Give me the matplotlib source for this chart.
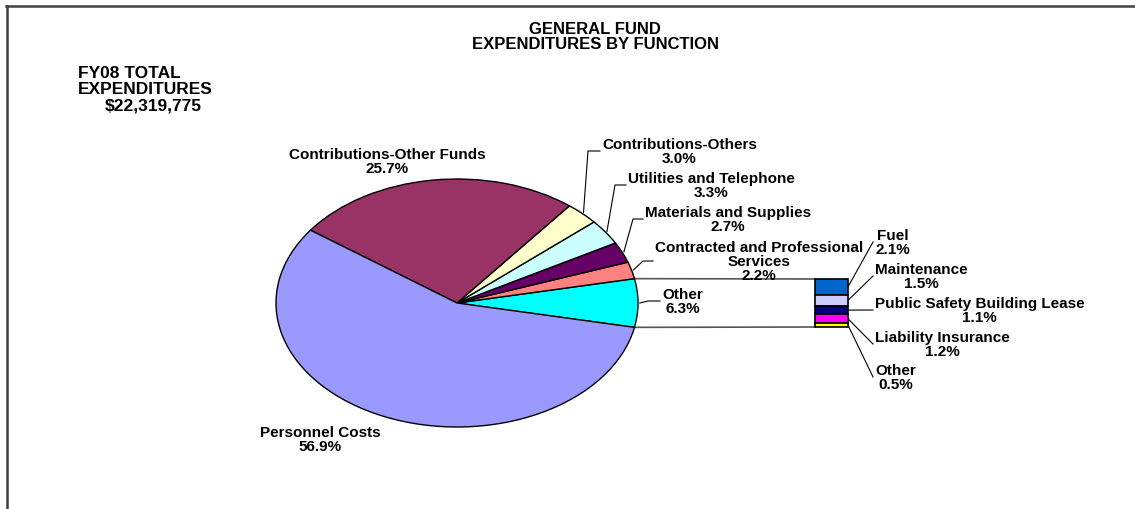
import numpy as np
import matplotlib.pyplot as plt

plt.rcParams['font.family'] = ['Liberation Sans', 'DejaVu Sans']
plt.rcParams['font.weight'] = 'bold'

# main pie, counter-clockwise starting with the "Other" slice on the right
pie_labels = ['Other', 'Contracted and Professional\nServices', 'Materials and Supplies',
              'Utilities and Telephone', 'Contributions-Others',
              'Contributions-Other Funds', 'Personnel Costs']
pie_pct = [6.3, 2.2, 2.7, 3.3, 3.0, 25.7, 56.9]
pie_colors = ['#00FFFF', '#FF8080', '#660066', '#CCFFFF', '#FFFFCC', '#993366', '#9999FF']

# the "Other" slice split out in the bar, top to bottom
bar_labels = ['Fuel', 'Maintenance', 'Public Safety Building Lease',
              'Liability Insurance', 'Other']
bar_pct = [2.1, 1.5, 1.1, 1.2, 0.5]
bar_colors = ['#0066CC', '#CCCCFF', '#000080', '#FF00FF', '#FFFF00']

title = 'GENERAL FUND\nEXPENDITURES BY FUNCTION'
total_lines = ['FY08 TOTAL', 'EXPENDITURES', '$22,319,775']

# layout in pixels (origin top-left)
W, H = 1135, 510
cx, cy, rx, ry = 457, 304, 181, 124
bx0, bx1, by0, by1 = 815, 848, 280, 328
FS = 11

# label placement: (text left x, text centre y, elbow x) ; None = no leader
pie_label_pos = [(662, 302, 648), (655, 262, 643), (645, 220, 633), (628, 186, 615),
                 (602, 152, 588), None, None]
free_label_pos = {5: (387, 162), 6: (320, 440)}
bar_label_y = [243, 277, 311, 345, 378]
bar_label_x = 874


def rect(x0, y0, w, h):
    return [x0 / W, 1 - (y0 + h) / H, w / W, h / H]


fig = plt.figure(figsize=(W / 100, H / 100), dpi=100)

# pie (ellipse by stretching an axes)
pax = fig.add_axes(rect(cx - rx, cy - ry, 2 * rx, 2 * ry))
frac = np.array(pie_pct) / sum(pie_pct)
start = -frac[0] * 360 / 2
wedges, _ = pax.pie(frac, colors=pie_colors, startangle=start,
                    wedgeprops=dict(edgecolor='black', linewidth=1.0))
for w in wedges:
    w.set_clip_on(False)
pax.set_aspect('auto')
pax.set_xlim(-1, 1)
pax.set_ylim(-1, 1)
pax.axis('off')

# stacked bar
bax = fig.add_axes(rect(bx0, by0, bx1 - bx0, by1 - by0))
bottoms = np.concatenate([[0], np.cumsum(bar_pct)[:-1]])
bars = bax.bar([0] * len(bar_pct), bar_pct, bottom=bottoms, width=1,
               color=bar_colors, edgecolor='black', linewidth=1.2)
for b in bars:
    b.set_clip_on(False)
bax.set_xlim(-0.5, 0.5)
bax.set_ylim(sum(bar_pct), 0)
bax.axis('off')

# overlay for texts and lines
ov = fig.add_axes([0, 0, 1, 1], zorder=-1)
ov.set_xlim(0, W)
ov.set_ylim(H, 0)
ov.axis('off')

ov.plot([6, W], [7, 7], color='#404040', lw=1.8, clip_on=False)
ov.plot([7, 7], [7, H], color='#404040', lw=1.8, clip_on=False)

ov.text(595, 37, title, ha='center', va='center', fontsize=12, linespacing=1.02)
ov.text(78, 73, total_lines[0], ha='left', va='center', fontsize=12.5)
ov.text(78, 89, total_lines[1], ha='left', va='center', fontsize=12.5)
ov.text(105, 106, total_lines[2], ha='left', va='center', fontsize=12.5)


def edge_point(angle_deg, k=1.0):
    a = np.radians(angle_deg)
    return cx + k * rx * np.cos(a), cy - k * ry * np.sin(a)


angles = start + np.concatenate([[0], np.cumsum(frac)]) * 360
for i, lab in enumerate(pie_labels):
    txt = f'{lab}\n{pie_pct[i]:.1f}%'
    mid = (angles[i] + angles[i + 1]) / 2
    pos = pie_label_pos[i]
    if pos is None:
        fx, fy = free_label_pos[i]
        ov.text(fx, fy, txt, ha='center', va='center', fontsize=FS,
                linespacing=1.0, multialignment='center')
        continue
    tx, ty, ex = pos
    ax_, ay_ = edge_point(mid, 1.01)
    ov.plot([ax_, ex, tx - 2], [ay_, ty, ty], color='black', lw=0.8)
    ov.text(tx, ty, txt, ha='left', va='center', fontsize=FS,
            linespacing=1.0, multialignment='center')

# connector lines from the "Other" slice to the bar
p_top = edge_point(angles[1])
p_bot = edge_point(angles[0])
ov.plot([p_top[0], bx0], [p_top[1], by0], color='#555555', lw=1.2)
ov.plot([p_bot[0], bx0], [p_bot[1], by1], color='#555555', lw=1.2)

# bar labels
tot = sum(bar_pct)
for i, lab in enumerate(bar_labels):
    sy = by0 + (bottoms[i] + bar_pct[i] / 2) / tot * (by1 - by0)
    ly = bar_label_y[i]
    ov.plot([bx1, bar_label_x - 1], [sy, ly], color='black', lw=0.8)
    ov.text(bar_label_x + 1, ly, f'{lab}\n{bar_pct[i]:.1f}%', ha='left', va='center',
            fontsize=FS, linespacing=1.0, multialignment='center')

fig.savefig('out.png', dpi=100, facecolor='white')
